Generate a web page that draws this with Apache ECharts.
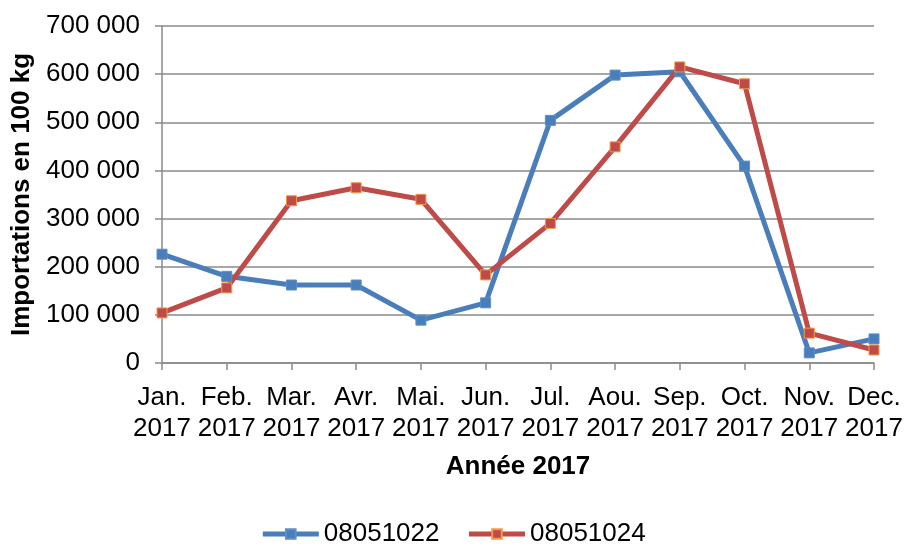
<!DOCTYPE html>
<html>
<head>
<meta charset="utf-8">
<script src="https://cdn.jsdelivr.net/npm/echarts@6/dist/echarts.min.js"></script>
<style>
  html, body { margin: 0; padding: 0; background: #fff; }
  #chart { width: 906px; height: 550px; }
</style>
</head>
<body>
<div id="chart"></div>
<script>
// mois (deux lignes sous l'axe)
var months = ['Jan.', 'Feb.', 'Mar.', 'Avr.', 'Mai.', 'Jun.', 'Jul.', 'Aou.', 'Sep.', 'Oct.', 'Nov.', 'Dec.'];
var year = '2017';
// importations en 100 kg
var serie1022 = [226000, 180000, 162000, 162000, 89000, 125000, 504000, 598000, 605000, 409000, 21000, 50000];
var serie1024 = [104000, 156000, 337000, 364000, 340000, 183000, 290000, 449000, 615000, 580000, 62000, 27000];
var names = ['08051022', '08051024'];

var font = 'Liberation Sans, Arial, sans-serif';
var gray = '#8a8a8a';

var chart = echarts.init(document.getElementById('chart'));

function fmt(v) {
  return String(v).replace(/\B(?=(\d{3})+(?!\d))/g, ' ');
}

chart.setOption({
  backgroundColor: '#fff',
  animation: false,
  textStyle: { fontFamily: font },
  grid: { left: 162, right: 32, top: 26, bottom: 187, containLabel: false, outerBoundsMode: 'none' },
  legend: {
    data: names,
    bottom: -2,
    left: 'center',
    itemWidth: 56,
    itemHeight: 12,
    itemGap: 27,
    lineStyle: { width: 5 },
    textStyle: { fontSize: 26, color: '#000', fontFamily: font }
  },
  xAxis: {
    type: 'category',
    boundaryGap: false,
    data: months.map(function (m) { return m + '\n' + year; }),
    name: 'Année 2017',
    nameLocation: 'middle',
    nameGap: 91,
    nameTextStyle: { fontSize: 26, fontWeight: 'bold', color: '#000' },
    axisLine: { lineStyle: { color: gray, width: 1.5 } },
    axisTick: { show: true, length: 7, alignWithLabel: true, lineStyle: { color: gray, width: 1.5 } },
    axisLabel: { fontSize: 26, color: '#000', margin: 19, lineHeight: 31, interval: 0 },
    splitLine: { show: false }
  },
  yAxis: {
    type: 'value',
    min: 0,
    max: 700000,
    interval: 100000,
    name: 'Importations en 100 kg',
    nameLocation: 'middle',
    nameGap: 127,
    nameRotate: 90,
    nameTextStyle: { fontSize: 26, fontWeight: 'bold', color: '#000' },
    axisLine: { show: true, lineStyle: { color: gray, width: 1.5 } },
    axisTick: { show: true, length: 7, lineStyle: { color: gray, width: 1.5 } },
    axisLabel: { fontSize: 26, color: '#000', margin: 22, formatter: fmt },
    splitLine: { lineStyle: { color: gray, width: 1.5 } }
  },
  series: [
    {
      name: names[0],
      type: 'line',
      data: serie1022,
      symbol: 'rect',
      symbolSize: 10,
      lineStyle: { color: '#4A7EBB', width: 5 },
      itemStyle: { color: '#4A7EBB', borderColor: '#5B8FCC', borderWidth: 1 }
    },
    {
      name: names[1],
      type: 'line',
      data: serie1024,
      symbol: 'rect',
      symbolSize: 10,
      lineStyle: { color: '#BE4B48', width: 5 },
      itemStyle: { color: '#BE4B48', borderColor: '#F79646', borderWidth: 1 }
    }
  ]
});
</script>
</body>
</html>
